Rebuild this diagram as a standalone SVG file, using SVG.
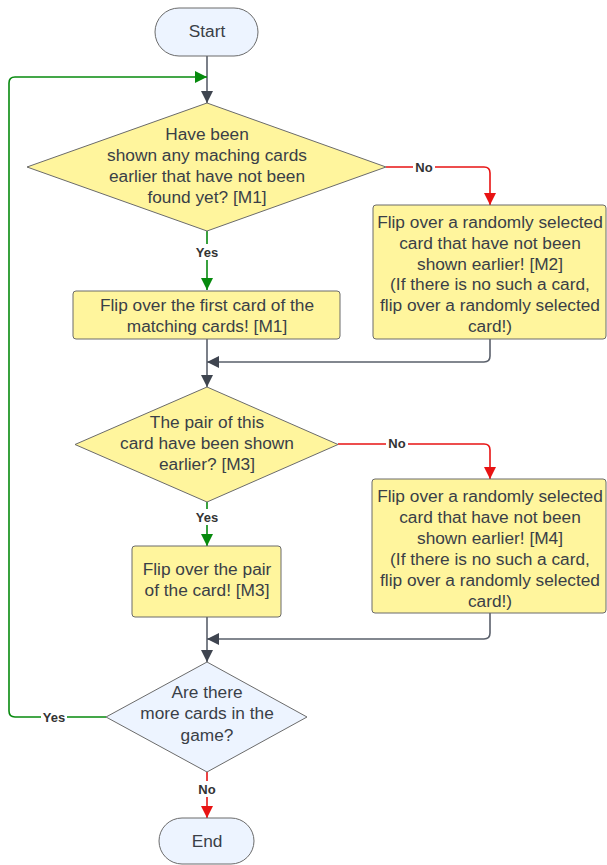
<svg xmlns="http://www.w3.org/2000/svg" width="607" height="865" viewBox="0 0 607 865">
<defs>
<style>
.t{font-family:"Liberation Sans",Arial,sans-serif;font-size:17.3px;fill:#3a3f47;text-anchor:middle;dominant-baseline:central}
.lb{font-family:"Liberation Sans",Arial,sans-serif;font-size:13px;font-weight:bold;fill:#333;text-anchor:middle;dominant-baseline:central}
.y{fill:#fff59d;stroke:#6b6b6b;stroke-width:1}
.b{fill:#edf4ff;stroke:#6b6b6b;stroke-width:1}
.c{fill:none;stroke-width:1.6}
.g{stroke:#5a606b}
.gr{stroke:#078a0e}
.r{stroke:#e81313}
</style>
<marker id="ag" markerUnits="userSpaceOnUse" markerWidth="14" markerHeight="14" refX="12" refY="6" orient="auto"><path d="M0,0 L12,6 L0,12 z" fill="#3f4550"/></marker>
<marker id="agr" markerUnits="userSpaceOnUse" markerWidth="14" markerHeight="14" refX="12" refY="6" orient="auto"><path d="M0,0 L12,6 L0,12 z" fill="#078a0e"/></marker>
<marker id="ar" markerUnits="userSpaceOnUse" markerWidth="14" markerHeight="14" refX="12" refY="6" orient="auto"><path d="M0,0 L12,6 L0,12 z" fill="#e81313"/></marker>
</defs>
<rect width="607" height="865" fill="#fff"/>

<g id="connectors">
<path class="c g" d="M207,56 V103" marker-end="url(#ag)"/>
<path class="c gr" d="M106,717 H15 Q9,717 9,711 V83 Q9,77 15,77 H207" marker-end="url(#agr)"/>
<path class="c r" d="M386,167 H484 Q490,167 490,173 V205" marker-end="url(#ar)"/>
<path class="c gr" d="M207,231 V290" marker-end="url(#agr)"/>
<path class="c g" d="M207,339 V387" marker-end="url(#ag)"/>
<path class="c g" d="M490,339 V356 Q490,362 484,362 H207" marker-end="url(#ag)"/>
<path class="c r" d="M338,444 H484 Q490,444 490,450 V479" marker-end="url(#ar)"/>
<path class="c gr" d="M207,502 V546" marker-end="url(#agr)"/>
<path class="c g" d="M207,617 V662" marker-end="url(#ag)"/>
<path class="c g" d="M490,613 V633 Q490,639 484,639 H207" marker-end="url(#ag)"/>
<path class="c r" d="M207,772 V818" marker-end="url(#ar)"/>
<g>
<rect x="41" y="709" width="26" height="16" fill="#fff"/><text class="lb" x="54" y="717">Yes</text>
<rect x="413" y="159" width="22" height="16" fill="#fff"/><text class="lb" x="424" y="167">No</text>
<rect x="194" y="244" width="26" height="16" fill="#fff"/><text class="lb" x="207" y="252">Yes</text>
<rect x="386" y="435" width="22" height="16" fill="#fff"/><text class="lb" x="397" y="443">No</text>
<rect x="194" y="509" width="26" height="16" fill="#fff"/><text class="lb" x="207" y="517">Yes</text>
<rect x="196" y="781" width="22" height="16" fill="#fff"/><text class="lb" x="207" y="789">No</text>
</g>
</g>

<g id="start">
<rect class="b" x="155" y="8" width="103" height="48" rx="24"/>
<text class="t" x="207" y="31">Start</text>
</g>

<g id="decision1">
<path class="y" d="M207,103 L386,167 L207,231 L27,167 Z"/>
<text class="t" x="207" y="134">Have been</text>
<text class="t" x="207" y="155">shown any maching cards</text>
<text class="t" x="207" y="176">earlier that have not been</text>
<text class="t" x="207" y="197">found yet? [M1]</text>
</g>

<g id="flip-first">
<rect class="y" x="73" y="291" width="267" height="48" rx="3"/>
<text class="t" x="207" y="305">Flip over the first card of the</text>
<text class="t" x="207" y="326">matching cards! [M1]</text>
</g>

<g id="flip-random-m2">
<rect class="y" x="373" y="205" width="233" height="134" rx="3"/>
<text class="t" x="490" y="222">Flip over a randomly selected</text>
<text class="t" x="490" y="243">card that have not been</text>
<text class="t" x="490" y="264">shown earlier! [M2]</text>
<text class="t" x="490" y="284">(If there is no such a card,</text>
<text class="t" x="490" y="305">flip over a randomly selected</text>
<text class="t" x="490" y="326">card!)</text>
</g>

<g id="decision2">
<path class="y" d="M207,387 L338,444.5 L207,502 L75,444.5 Z"/>
<text class="t" x="207" y="422">The pair of this</text>
<text class="t" x="207" y="443">card have been shown</text>
<text class="t" x="207" y="464">earlier? [M3]</text>
</g>

<g id="flip-pair">
<rect class="y" x="132" y="546" width="149" height="71" rx="3"/>
<text class="t" x="207" y="569">Flip over the pair</text>
<text class="t" x="207" y="590">of the card! [M3]</text>
</g>

<g id="flip-random-m4">
<rect class="y" x="372" y="479" width="234" height="134" rx="3"/>
<text class="t" x="490" y="496">Flip over a randomly selected</text>
<text class="t" x="490" y="517">card that have not been</text>
<text class="t" x="490" y="538">shown earlier! [M4]</text>
<text class="t" x="490" y="559">(If there is no such a card,</text>
<text class="t" x="490" y="580">flip over a randomly selected</text>
<text class="t" x="490" y="601">card!)</text>
</g>

<g id="decision3">
<path class="b" d="M207,662 L307,717 L207,772 L106,717 Z"/>
<text class="t" x="207" y="692">Are there</text>
<text class="t" x="207" y="713">more cards in the</text>
<text class="t" x="207" y="735">game?</text>
</g>

<g id="end">
<rect class="b" x="159" y="818" width="95" height="46" rx="23"/>
<text class="t" x="207" y="841">End</text>
</g>
</svg>
